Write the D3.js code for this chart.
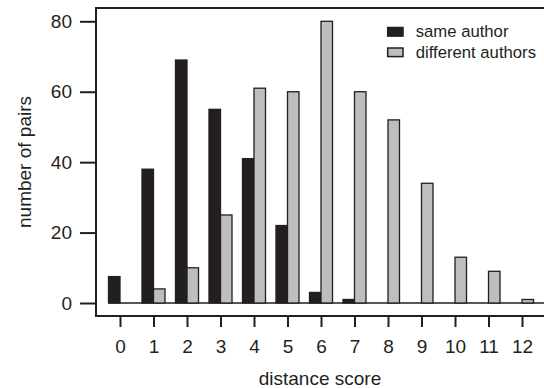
<!DOCTYPE html>
<html>
<head>
<meta charset="utf-8">
<script src="https://cdn.jsdelivr.net/npm/d3@7"></script>
<style>
  body { margin: 0; background: #fff; }
  text { font-family: "Liberation Sans", Arial, Helvetica, sans-serif; fill: #231f20; }
</style>
</head>
<body>
<script>
// data
var scores = [0, 1, 2, 3, 4, 5, 6, 7, 8, 9, 10, 11, 12];
var sameAuthor = [7.5, 38, 69, 55, 41, 22, 3, 1, 0, 0, 0, 0, 0];
var differentAuthors = [0, 4, 10, 25, 61, 60, 80, 60, 52, 34, 13, 9, 1];
var seriesNames = ['same author', 'different authors'];
var yTicks = [0, 20, 40, 60, 80];

var W = 544, H = 388;
var ink = '#231f20';
var colors = ['#231f20', '#bcbec0'];

var svg = d3.select('body').append('svg')
    .attr('width', W)
    .attr('height', H);

var box = { left: 96, top: 8, bottom: 316 };

// group scale: step 33.5, tick 0 at x=120
var x = d3.scaleBand()
    .domain(scores)
    .range([103.25, 103.25 + scores.length * 33.5])
    .paddingInner(0.313)
    .paddingOuter(0.1565);

var xs = d3.scaleBand()
    .domain(seriesNames)
    .range([0, x.bandwidth()]);

var y = d3.scaleLinear().domain([0, 80]).range([303, 21.3]);

// baseline line through the bars
svg.append('line')
    .attr('x1', x(0)).attr('x2', W + 2)
    .attr('y1', y(0)).attr('y2', y(0))
    .attr('stroke', ink).attr('stroke-width', 1.3);

var rows = scores.map(function(s, i) {
    return { score: s, values: [sameAuthor[i], differentAuthors[i]] };
});

var groups = svg.append('g').selectAll('g')
    .data(rows)
    .enter().append('g')
    .attr('transform', function(d) { return 'translate(' + x(d.score) + ',0)'; });

groups.selectAll('rect')
    .data(function(d) { return d.values.map(function(v, j) { return { v: v, j: j }; }); })
    .enter().append('rect')
    .attr('x', function(d) { return xs(seriesNames[d.j]); })
    .attr('width', xs.bandwidth())
    .attr('y', function(d) { return y(d.v); })
    .attr('height', function(d) { return y(0) - y(d.v); })
    .attr('fill', function(d) { return colors[d.j]; })
    .attr('stroke', ink)
    .attr('stroke-width', 1.3);

// box (right side runs off the picture)
svg.append('path')
    .attr('d', 'M' + (W + 2) + ',' + box.top + 'H' + box.left + 'V' + box.bottom + 'H' + (W + 2))
    .attr('fill', 'none')
    .attr('stroke', ink)
    .attr('stroke-width', 2);

// y axis
var yAxis = svg.append('g')
    .attr('transform', 'translate(' + box.left + ',0)')
    .call(d3.axisLeft(y).tickValues(yTicks).tickSize(16).tickPadding(8));
yAxis.select('.domain').remove();
yAxis.selectAll('line').attr('stroke', ink).attr('stroke-width', 2);
yAxis.selectAll('text')
    .attr('font-size', 19)
    .attr('font-family', '"Liberation Sans", Arial, sans-serif')
    .attr('fill', ink);

// x axis, ticks at centre of each pair
var xAxisScale = d3.scalePoint()
    .domain(scores)
    .range([x(0) + x.bandwidth() / 2, x(12) + x.bandwidth() / 2]);
var xAxis = svg.append('g')
    .attr('transform', 'translate(0,' + box.bottom + ')')
    .call(d3.axisBottom(xAxisScale).tickSize(11).tickPadding(13));
xAxis.select('.domain').remove();
xAxis.selectAll('line').attr('stroke', ink).attr('stroke-width', 2);
xAxis.selectAll('text')
    .attr('font-size', 19)
    .attr('font-family', '"Liberation Sans", Arial, sans-serif')
    .attr('fill', ink);

// axis titles
svg.append('text')
    .attr('x', 320).attr('y', 385)
    .attr('text-anchor', 'middle')
    .attr('font-size', 19)
    .text('distance score');

svg.append('text')
    .attr('transform', 'translate(31,162) rotate(-90)')
    .attr('text-anchor', 'middle')
    .attr('font-size', 19)
    .text('number of pairs');

// legend
var legend = svg.append('g').selectAll('g')
    .data(seriesNames)
    .enter().append('g')
    .attr('transform', function(d, i) { return 'translate(387,' + (31.8 + i * 20.5) + ')'; });

legend.append('rect')
    .attr('x', 0.7).attr('y', -4.3)
    .attr('width', 15.3).attr('height', 8.6)
    .attr('fill', function(d, i) { return colors[i]; })
    .attr('stroke', ink)
    .attr('stroke-width', 1.5);

legend.append('text')
    .attr('x', 28.7).attr('y', 5.5)
    .attr('font-size', 16.7)
    .text(function(d) { return d; });
</script>
</body>
</html>
